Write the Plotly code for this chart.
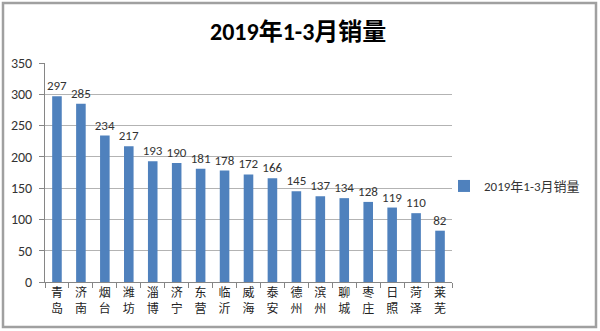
import plotly.graph_objects as go

# 2019 Q1 sales by city
cities = ["青岛", "济南", "烟台", "潍坊", "淄博", "济宁", "东营", "临沂", "威海",
          "泰安", "德州", "滨州", "聊城", "枣庄", "日照", "菏泽", "莱芜"]
sales = [297, 285, 234, 217, 193, 190, 181, 178, 172, 166, 145, 137, 134, 128, 119, 110, 82]
series_name = "2019年1-3月销量"
y_ticks = [0, 50, 100, 150, 200, 250, 300, 350]

W, H = 600, 331
L, R, T, B = 45, 148, 63, 49
pw, ph = W - L - R, H - T - B

def px_x(v):
    return (v - L) / pw

def px_y(v):
    return (H - B - v) / ph

FONT = "Calibri, Carlito, 'Noto Sans CJK SC', sans-serif"

# stacked two-character labels
tick_text = ["<br>".join(list(c)) for c in cities]

fig = go.Figure()
fig.add_trace(go.Bar(
    x=cities, y=sales, name=series_name,
    marker=dict(color="#4F81BD", line=dict(width=0)),
    text=[str(v) for v in sales], textposition="outside",
    constraintext="none",
    textfont=dict(size=13, color="#333333", family=FONT),
    cliponaxis=False, showlegend=True,
))

fig.update_layout(
    width=W, height=H,
    margin=dict(l=L, r=R, t=T, b=B, pad=0, autoexpand=False),
    paper_bgcolor="white", plot_bgcolor="white",
    bargap=0.6,
    title=dict(text="<b>" + series_name + "</b>", x=0.497, xanchor="center",
               y=1 - 32 / H, yanchor="middle",
               font=dict(size=24, color="#000000", family=FONT)),
    legend=dict(xref="container", yref="container", x=444 / W, y=1 - 186 / H,
                xanchor="left", yanchor="middle",
                font=dict(size=13, color="#333333", family=FONT),
                itemwidth=30, bgcolor="rgba(0,0,0,0)"),
    xaxis=dict(tickmode="array", tickvals=cities, ticktext=tick_text,
               tickangle=0, tickfont=dict(size=12, color="#222222", family="Noto Sans CJK SC"),
               showline=True, linecolor="#868686", linewidth=1,
               ticks="outside", tickson="boundaries", ticklen=5, tickcolor="#868686",
               showgrid=False, fixedrange=True),
    yaxis=dict(range=[0, 350], tickvals=y_ticks,
               tickfont=dict(size=14, color="#333333", family=FONT),
               ticklabelstandoff=4,
               showline=True, linecolor="#868686", linewidth=1,
               ticks="outside", ticklen=5, tickcolor="#868686",
               showgrid=True, gridcolor="#B3B3B3", gridwidth=1,
               zeroline=False, fixedrange=True),
    shapes=[dict(type="rect", xref="paper", yref="paper",
                 x0=px_x(3), x1=px_x(596), y0=px_y(327), y1=px_y(3),
                 line=dict(color="#A0A0A0", width=2.5), fillcolor="rgba(0,0,0,0)",
                 layer="below")],
)

fig.write_html("out.html")
